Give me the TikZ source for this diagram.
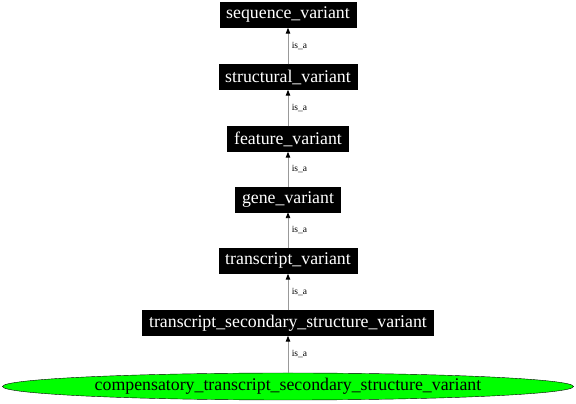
\documentclass[tikz,border=0pt]{standalone}
\usepackage{fontspec}
\setmainfont{Liberation Serif}
\usetikzlibrary{shapes.geometric,arrows.meta}
\newcommand{\termfont}{\fontsize{17.8}{20}\selectfont}
\newcommand{\relfont}{\fontsize{9.5}{11}\selectfont}
\tikzset{
  termbox/.style={fill=black,draw=black,text=white,font=\termfont,minimum height=25pt,inner xsep=6.5pt,inner ysep=0pt},
  leafterm/.style={ellipse,fill=green,draw=black,line width=0.4pt,font=\termfont,minimum width=571pt,minimum height=27pt,inner sep=0pt},
  isa/.style={draw=gray!80,line width=0.9pt,-{Triangle[black,length=6pt,width=4.5pt]}}
}
\begin{document}
\begin{tikzpicture}[x=1pt,y=1pt]
\useasboundingbox (0,0) rectangle (576,404);
\node[termbox] (Tseq) at (288,389) {sequence\_variant};
\node[termbox] (Tstruct) at (288,327) {structural\_variant};
\node[termbox] (Tfeature) at (288,265) {feature\_variant};
\node[termbox] (Tgene) at (288,204.5) {gene\_variant};
\node[termbox] (Ttrans) at (288,143) {transcript\_variant};
\node[termbox] (Ttss) at (288,81) {transcript\_secondary\_structure\_variant};
\node[leafterm] (Tcomp) at (288,17.5) {compensatory\_transcript\_secondary\_structure\_variant};

\path[isa] (Tstruct) edge [isa] node [right,font=\relfont]
     {is\_a} (Tseq);
\path[isa] (Tfeature) edge [isa] node [right,font=\relfont]
     {is\_a} (Tstruct);
\path[isa] (Tgene) edge [isa] node [right,font=\relfont]
     {is\_a} (Tfeature);
\path[isa] (Ttrans) edge [isa] node [right,font=\relfont]
     {is\_a} (Tgene);
\path[isa] (Ttss) edge [isa] node [right,font=\relfont]
     {is\_a} (Ttrans);
\path[isa] (Tcomp) edge [isa] node [right,font=\relfont]
     {is\_a} (Ttss);
\end{tikzpicture}
\end{document}
